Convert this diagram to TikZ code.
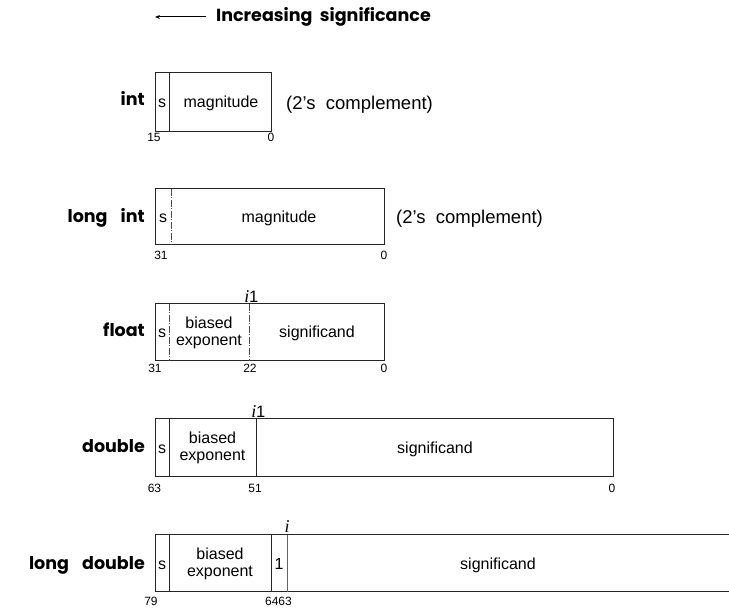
\documentclass[tikz,border=0pt]{standalone}
\usepackage{fontspec}
\setmainfont{Liberation Sans}
\newfontfamily\geo{Poppins}
\newfontfamily\serifit{Liberation Serif}
\usetikzlibrary{arrows.meta}
\begin{document}
\begin{tikzpicture}[x=1pt,y=-1pt,
  box/.style={draw=black!85, line width=1pt},
  sep/.style={draw=black!85, line width=0.9pt},
  thinsep/.style={draw=black!60, line width=0.6pt},
  dsep/.style={draw=black!70, line width=0.8pt, dash pattern=on 7pt off 1.5pt on 1pt off 1.5pt},
  field/.style={font=\fontsize{16}{17}\selectfont, align=center, inner sep=0pt},
  bit/.style={font=\fontsize{12}{13}\selectfont, inner sep=0pt, anchor=north},
  type/.style={font=\geo\bfseries\fontsize{17.5}{20}\selectfont, anchor=base east, inner sep=0pt},
  note/.style={font=\fontsize{18.5}{20}\selectfont, anchor=base west, inner sep=0pt},
  ilab/.style={font=\serifit\itshape\fontsize{18}{19}\selectfont, inner sep=0pt},
  onelab/.style={font=\fontsize{16.5}{17}\selectfont, inner sep=0pt, anchor=base west}]
\useasboundingbox (0,0) rectangle (729,609);

% header
\node[font=\geo\bfseries\fontsize{17.5}{19}\selectfont, anchor=west, inner sep=0pt] (title) at (216,17) {Increasing\ \ significance};
\coordinate (arrowend) at (155,17);
\draw[-{Stealth[length=5pt,width=4pt]}, line width=1pt] ([xshift=-10pt]title.west) -- (arrowend);

% int
\draw[box] (155,73) rectangle (271,132);
\draw[sep] (169,73) -- (169,132);
\node[type] (int) at (145,106) {int};
\node[field, anchor=base] (int-s) at (162,108) {s};
\node[field, anchor=base] (int-mag) at (221,108) {magnitude};
\node[note] (int-note) at (286,110) {(2's\ \ complement)};
\node[bit] (int-b15) at (154,133) {15};
\node[bit] (int-b0) at (271,133) {0};

% long int
\draw[box] (155,189) rectangle (384,245);
\draw[dsep] (171,189) -- (171,245);
\node[type] (lint) at (145,223) {long\hspace{0.75em}int};
\node[field, anchor=base] (lint-s) at (163,222.5) {s};
\node[field, anchor=base] (lint-mag) at (279,222.5) {magnitude};
\node[note] (lint-note) at (396,224) {(2's\ \ complement)};
\node[bit] (lint-b31) at (161,251) {31};
\node[bit] (lint-b0) at (384,251) {0};

% float
\draw[box] (155,304) rectangle (384,361);
\draw[dsep] (169,304) -- (169,361);
\draw[dsep] (249,304) -- (249,361);
\node[type] (float) at (145,337) {float};
\node[field, anchor=base] (float-s) at (162,338) {s};
\node[field] (float-exp) at (209,332.5) {biased\\exponent};
\node[field, anchor=base] (float-sig) at (317,338) {significand};
\node[ilab, anchor=base east] (float-i) at (249.5,303) {i};
\node[onelab] (float-1) at (249,303) {1};
\node[bit] (float-b31) at (155,364) {31};
\node[bit] (float-b22) at (250,364) {22};
\node[bit] (float-b0) at (384,364) {0};

% double
\draw[box] (155,419) rectangle (613,477);
\draw[sep] (169,419) -- (169,477);
\draw[sep] (256,419) -- (256,477);
\node[type] (double) at (145,453) {double};
\node[field, anchor=base] (double-s) at (162,453.5) {s};
\node[field] (double-exp) at (212.5,448) {biased\\exponent};
\node[field, anchor=base] (double-sig) at (435,453.5) {significand};
\node[ilab, anchor=base east] (double-i) at (256.5,418) {i};
\node[onelab] (double-1) at (256,418) {1};
\node[bit] (double-b63) at (154.5,484) {63};
\node[bit] (double-b51) at (255,484) {51};
\node[bit] (double-b0) at (612,484) {0};

% long double
\draw[box] (729,535) -- (155,535) -- (155,592) -- (729,592);
\draw[sep] (169,535) -- (169,592);
\draw[sep] (271,535) -- (271,592);
\draw[thinsep] (287,535) -- (287,592);
\node[type] (ldouble) at (145,570) {long\hspace{0.75em}double};
\node[field, anchor=base] (ld-s) at (162,569) {s};
\node[field] (ld-exp) at (220,563.5) {biased\\exponent};
\node[field, anchor=base] (ld-one) at (279,569) {1};
\node[field, anchor=base] (ld-sig) at (498,569) {significand};
\node[ilab, anchor=base] (ld-i) at (287,533) {i};
\node[bit] (ld-b79) at (151,597) {79};
\node[bit] (ld-b6463) at (278.5,597) {6463};
\end{tikzpicture}
\end{document}
